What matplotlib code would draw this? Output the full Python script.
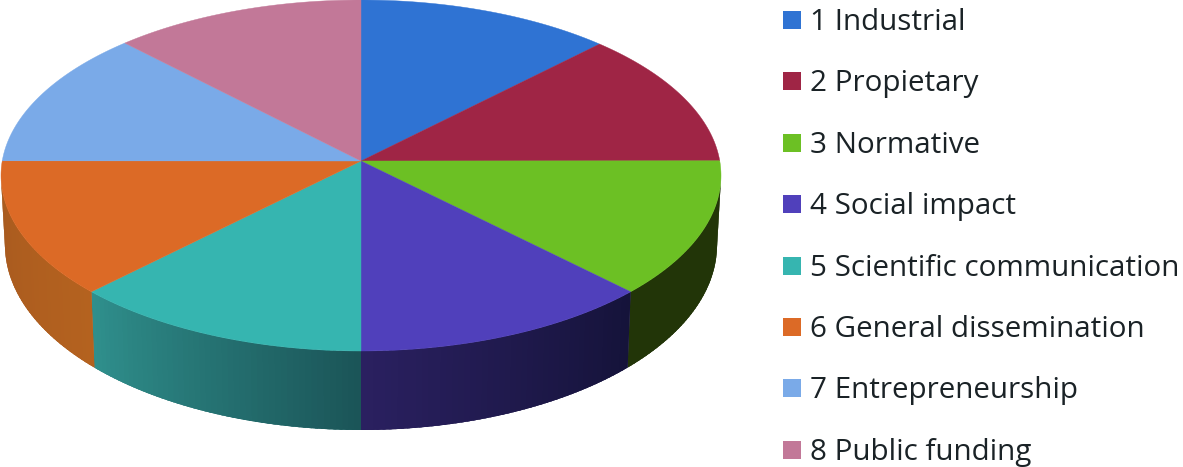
import numpy as np
import matplotlib
matplotlib.use('Agg')
import matplotlib.pyplot as plt
from matplotlib.colors import to_rgb
from matplotlib.patches import Rectangle

labels = ['1 Industrial', '2 Propietary', '3 Normative', '4 Social impact',
          '5 Scientific communication', '6 General dissemination',
          '7 Entrepreneurship', '8 Public funding']
# shares as they appear on the rim (degrees), clockwise from the top
shares = [41.5, 43.7, 46.3, 48.5, 48.5, 46.3, 44.2, 41]
colors = ['#2f73d3', '#9f2545', '#6cc024', '#5040bb',
          '#36b5b0', '#dc6a26', '#7aaae8', '#c27898']
wall_left = ['#000000', '#000000', '#223508', '#2a2060',
             '#2f8f8c', '#a85a1f', '#000000', '#000000']
wall_right = ['#000000', '#000000', '#223508', '#15133a',
              '#1b5558', '#b4621f', '#000000', '#000000']


def rim(t, cy, rx, ry):
    # t in degrees, clockwise from top
    r = np.radians(t)
    return 361 + rx * np.sin(r), cy - ry * np.cos(r)


fig = plt.figure(figsize=(11.83, 4.67), dpi=100)
ax = fig.add_axes([0, 0, 1, 1])
ax.set_xlim(0, 1183)
ax.set_ylim(467, 0)
ax.axis('off')

edges = np.concatenate([[0], np.cumsum(shares)])

# side walls, only the front half shows
for i in range(len(shares)):
    a, b = max(edges[i], 90), min(edges[i + 1], 270)
    if a >= b:
        continue
    left = np.array(to_rgb(wall_left[i]))
    right = np.array(to_rgb(wall_right[i]))

    # solid base under the strips so nothing shows through between them
    ts = np.linspace(a, b, 80)
    x1, y1 = rim(ts, 175.5, 360, 175.5)
    x2, y2 = rim(ts[::-1], 245, 356, 185)
    ax.fill(np.r_[x1, x2], np.r_[y1, y2], facecolor=tuple((left + right) / 2), edgecolor='none')

    steps = np.linspace(a, b, int(b - a) + 2)
    for j in range(len(steps) - 1):
        # overlap the next strip a little so no seams show
        ts = np.array([steps[j], min(steps[j + 1] + 0.5, b)])
        x1, y1 = rim(ts, 175.5, 360, 175.5)
        x2, y2 = rim(ts[::-1], 245, 356, 185)
        f = j / (len(steps) - 2)
        # wall colour runs from the right hand end to the left hand end
        c = (1 - f) * right + f * left
        ax.fill(np.r_[x1, x2], np.r_[y1, y2], facecolor=tuple(c), edgecolor='none')

# top face
for i in range(len(shares)):
    ts = np.linspace(edges[i], edges[i + 1], 80)
    x, y = rim(ts, 175.5, 360, 175.5)
    ax.fill(np.r_[361, x], np.r_[161, y], color=colors[i], lw=0.3)

# legend
for i, name in enumerate(labels):
    yc = 20 + i * 61.4
    ax.add_patch(Rectangle((783, yc - 9), 18, 18, fc=colors[i], ec='none'))
    ax.text(810, yc + 2.5, name, fontsize=21.3, family='Open Sans', color='#1a2226',
            va='center', ha='left')

fig.savefig('out.png', dpi=100)
